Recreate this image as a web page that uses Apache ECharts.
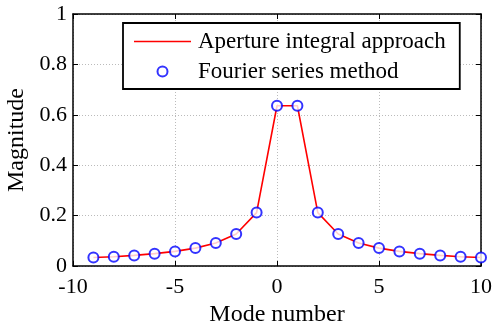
<!DOCTYPE html>
<html><head><meta charset="utf-8">
<script src="https://cdn.jsdelivr.net/npm/echarts@6/dist/echarts.min.js"></script>
<style>html,body{margin:0;padding:0;background:#fff}#c{width:492px;height:322px}</style>
</head><body><div id="c"></div>
<script>
const modes = [-9,-8,-7,-6,-5,-4,-3,-2,-1,0,1,2,3,4,5,6,7,8,9,10];
const apertureValues = [0.034,0.037,0.042,0.049,0.058,0.071,0.091,0.127,0.212,0.636,0.636,0.212,0.127,0.091,0.071,0.058,0.049,0.042,0.037,0.034];
const fourierValues = [0.034,0.037,0.042,0.049,0.058,0.071,0.091,0.127,0.212,0.636,0.636,0.212,0.127,0.091,0.071,0.058,0.049,0.042,0.037,0.034];
const xTicks = [-10,-5,0,5,10];
const yTicks = [0,0.2,0.4,0.6,0.8,1];
const names = ['Aperture integral approach','Fourier series method'];

const font = 'Liberation Serif';
const chart = echarts.init(document.getElementById('c'));
const axisCommon = {
  axisLine:{show:true,onZero:false,lineStyle:{color:'#000',width:1.5}},
  axisTick:{show:true,inside:true,length:5,lineStyle:{color:'#000',width:1}},
};
const lineIcon = 'path://M0,0L0.01,0L0,0.01Z M0,4.2h57v1.6h-57z M57,10L56.99,10L57,9.99Z';
chart.setOption({
  animation:false,
  backgroundColor:'#fff',
  grid:{left:73,right:11,top:14,bottom:56,containLabel:false,outerBoundsMode:'none'},
  legend:{
    orient:'vertical',left:123,top:23,
    data:[{name:names[0],icon:lineIcon},{name:names[1],icon:'emptyCircle'}],
    borderColor:'#000',borderWidth:1.8,backgroundColor:'#fff',borderRadius:0,
    padding:[7,14,6,11],itemGap:7,itemWidth:57,itemHeight:10,
    textStyle:{fontFamily:font,fontSize:23,color:'#000',padding:[0,0,0,2]}
  },
  xAxis:[{
    type:'value',min:-10,max:10,interval:5,position:'bottom',
    ...axisCommon,
    axisLabel:{fontFamily:font,fontSize:22,color:'#000',margin:10,
      formatter:v=>xTicks.includes(v)?String(v):''},
    splitLine:{show:true,lineStyle:{color:'#bbb',type:[1,2],width:1}},
    name:'Mode number',nameLocation:'middle',nameGap:35,
    nameTextStyle:{fontFamily:font,fontSize:24,color:'#000'}
  },{
    type:'value',min:-10,max:10,interval:5,position:'top',
    ...axisCommon,axisLabel:{show:false},splitLine:{show:false}
  }],
  yAxis:[{
    type:'value',min:0,max:1,interval:0.2,position:'left',
    ...axisCommon,
    axisLabel:{fontFamily:font,fontSize:22,color:'#000',margin:6,
      formatter:v=>{const t=yTicks.find(y=>Math.abs(y-v)<1e-9);return t===undefined?'':String(t);}},
    splitLine:{show:true,lineStyle:{color:'#bbb',type:[1,2],width:1}},
    name:'Magnitude',nameLocation:'middle',nameGap:42,
    nameTextStyle:{fontFamily:font,fontSize:24,color:'#000'}
  },{
    type:'value',min:0,max:1,interval:0.2,position:'right',
    ...axisCommon,axisLabel:{show:false},splitLine:{show:false}
  }],
  series:[{
    name:names[0],type:'line',
    data:modes.map((m,i)=>[m,apertureValues[i]]),
    showSymbol:false,symbol:'none',
    lineStyle:{color:'#ff0000',width:1.6},itemStyle:{color:'#ff0000'},z:2
  },{
    name:names[1],type:'scatter',
    data:modes.map((m,i)=>[m,fourierValues[i]]),
    symbol:'emptyCircle',symbolSize:10,
    itemStyle:{color:'#0000ff',borderColor:'#0000ff',borderWidth:1.6},z:3
  }]
});
</script></body></html>
